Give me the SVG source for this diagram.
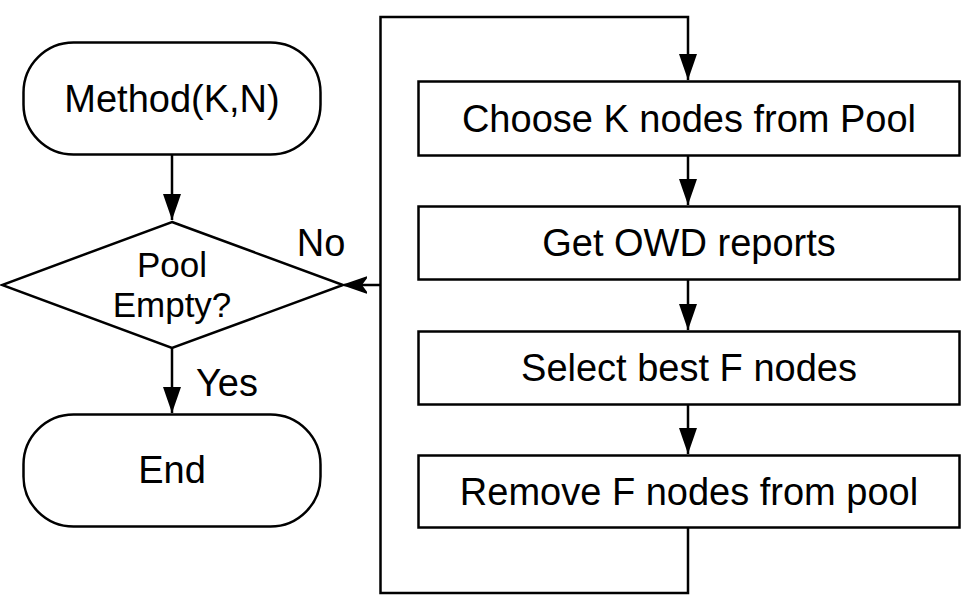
<svg xmlns="http://www.w3.org/2000/svg" width="971" height="609" viewBox="0 0 971 609">
<style>
.s{fill:#fff;stroke:#000;stroke-width:2.5}
.c{fill:none;stroke:#000;stroke-width:2.5}
text{font-family:"Liberation Sans",Arial,sans-serif;font-size:38px;fill:#000;text-anchor:middle}
.sm{font-size:35px}
</style>
<defs>
<marker id="arr" markerUnits="userSpaceOnUse" markerWidth="26" markerHeight="18" viewBox="0 0 26 18" refX="26" refY="9" orient="auto">
<path d="M0,0 L26,9 L0,18 Z" fill="#000"/>
</marker>
<marker id="cls" markerUnits="userSpaceOnUse" markerWidth="24" markerHeight="18" viewBox="0 0 24 18" refX="23" refY="9" orient="auto">
<path d="M0,1 L23,9 L0,17 L6,9 Z" fill="#000" stroke="#000" stroke-width="1.5" stroke-linejoin="miter"/>
</marker>
</defs>
<g id="connectors">
<path class="c" d="M172,155 V220" marker-end="url(#arr)"/>
<path class="c" d="M172,348 V413" marker-end="url(#arr)"/>
<path class="c" d="M688,156 V205" marker-end="url(#arr)"/>
<path class="c" d="M688,280 V330" marker-end="url(#arr)"/>
<path class="c" d="M688,405 V454" marker-end="url(#arr)"/>
<path class="c" d="M688,528 V593 H380.5 V17 H688 V80" marker-end="url(#arr)"/>
<path class="c" d="M380.5,285 H344" marker-end="url(#cls)"/>
</g>
<g id="start">
<rect class="s" x="23.5" y="42.5" width="297" height="112" rx="50" ry="50"/>
<text x="172" y="112">Method(K,N)</text>
</g>
<g id="decision">
<polygon class="s" points="172,222 343,285 172,348 2,285"/>
<text class="sm" x="172" y="277">Pool</text>
<text class="sm" x="172" y="317">Empty?</text>
</g>
<g id="end">
<rect class="s" x="23.5" y="414.5" width="297" height="112" rx="50" ry="50"/>
<text x="172" y="483">End</text>
</g>
<g id="choose">
<rect class="s" x="418.5" y="81.5" width="541" height="74"/>
<text x="689" y="132">Choose K nodes from Pool</text>
</g>
<g id="owd">
<rect class="s" x="418.5" y="206.5" width="541" height="73"/>
<text x="689" y="256">Get OWD reports</text>
</g>
<g id="select">
<rect class="s" x="418.5" y="331.5" width="541" height="73"/>
<text x="689" y="381">Select best F nodes</text>
</g>
<g id="remove">
<rect class="s" x="418.5" y="455.5" width="541" height="72"/>
<text x="689" y="505">Remove F nodes from pool</text>
</g>
<g id="labels">
<text x="321" y="256">No</text>
<text x="227" y="396">Yes</text>
</g>
</svg>
